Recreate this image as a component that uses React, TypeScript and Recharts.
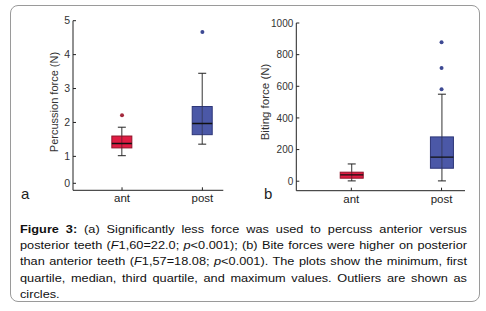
import { ComposedChart, Bar, Scatter, XAxis, YAxis } from "recharts";

const categories = ["ant", "post"];
const catPositions = [1, 2];

// (a) percussion force, N
const percMin = [1.02, 1.36];
const percQ1 = [1.25, 1.64];
const percMedian = [1.38, 1.97];
const percQ3 = [1.6, 2.47];
const percMax = [1.86, 3.45];
const percOutliers = [[2.21], [4.67]];
const percTicks = [0, 1, 2, 3, 4, 5];

// (b) biting force, N
const biteMin = [2, 2];
const biteQ1 = [19, 82];
const biteMedian = [40, 152];
const biteQ3 = [57, 280];
const biteMax = [109, 550];
const biteOutliers = [[], [581, 716, 878]];
const biteTicks = [0, 200, 400, 600, 800, 1000];

const FONT = "'Liberation Sans', Arial, sans-serif";
const boxFills = ["#e01c43", "#4b58a7"];
const boxEdges = ["#8f1529", "#2d3678"];
const dotFills = ["#a42a3d", "#3d4993"];

function buildRows(
  min: number[],
  q1: number[],
  med: number[],
  q3: number[],
  max: number[],
) {
  return categories.map((name, i) => ({
    x: catPositions[i],
    name,
    idx: i,
    range: [min[i], max[i]],
    min: min[i],
    q1: q1[i],
    med: med[i],
    q3: q3[i],
    max: max[i],
  }));
}

function buildOutliers(outliers: number[][]) {
  return outliers.flatMap((vals, i) =>
    vals.map((v) => ({ x: catPositions[i], v, idx: i })),
  );
}

const percRows = buildRows(percMin, percQ1, percMedian, percQ3, percMax);
const biteRows = buildRows(biteMin, biteQ1, biteMedian, biteQ3, biteMax);
const percDots = buildOutliers(percOutliers);
const biteDots = buildOutliers(biteOutliers);

function BoxShape(props: any) {
  const { x, y, width, height, payload } = props;
  const { min, max, q1, med, q3, idx } = payload;
  // bar spans [min, max]; place the quartiles on the same scale
  const py = (v: number) => y + ((max - v) / (max - min)) * height;
  const cx = x + width / 2;
  const cap = 4;
  return (
    <g>
      <line x1={cx} x2={cx} y1={py(max)} y2={py(min)} stroke="#333" />
      <line x1={cx - cap} x2={cx + cap} y1={py(max)} y2={py(max)} stroke="#222" />
      <line x1={cx - cap} x2={cx + cap} y1={py(min)} y2={py(min)} stroke="#222" />
      <rect
        x={x}
        y={py(q3)}
        width={width}
        height={py(q1) - py(q3)}
        fill={boxFills[idx]}
        stroke={boxEdges[idx]}
      />
      <line
        x1={cx}
        x2={cx}
        y1={py(q3)}
        y2={py(q1)}
        stroke="#222"
        strokeOpacity={0.5}
      />
      <line x1={x} x2={x + width} y1={py(med)} y2={py(med)} stroke="#111" strokeWidth={1.3} />
    </g>
  );
}

function OutlierDot(props: any) {
  const { cx, cy, payload } = props;
  return <circle cx={cx} cy={cy} r={2} fill={dotFills[payload.idx]} />;
}

function YTick(props: any) {
  const { x, y, payload, nudgeZero, fontSize } = props;
  const dy = nudgeZero && payload.value === 0 ? -7 : 0;
  return (
    <g>
      <line x1={x + 3} x2={x + 6} y1={y + dy} y2={y + dy} stroke="#222" />
      <text
        x={x}
        y={y + dy}
        dy="0.36em"
        textAnchor="end"
        fontSize={fontSize}
        fill="#333"
        fontFamily={FONT}
      >
        {payload.value}
      </text>
    </g>
  );
}

function BoxPanel({
  rows,
  dots,
  domain,
  ticks,
  margin,
  barSize,
  nudgeZero,
  tickFont,
}: {
  rows: any[];
  dots: any[];
  domain: [number, number];
  ticks: number[];
  margin: { top: number; right: number; bottom: number; left: number };
  barSize: number;
  nudgeZero: boolean;
  tickFont: number;
}) {
  return (
    <ComposedChart width={243} height={215} data={rows} margin={margin}>
      <XAxis
        type="number"
        dataKey="x"
        domain={[0.39, 2.26]}
        ticks={catPositions}
        allowDataOverflow
        tickFormatter={(v: number) => categories[v - 1]}
        height={20}
        tickSize={-3}
        tickMargin={7}
        stroke="#222"
        tick={{ fontSize: 11.5, fill: "#222", fontFamily: FONT }}
      />
      <YAxis
        type="number"
        domain={domain}
        ticks={ticks}
        allowDataOverflow
        width={40}
        stroke="#222"
        tickLine={false}
        tickSize={0}
        tickMargin={3}
        tick={<YTick nudgeZero={nudgeZero} fontSize={tickFont} />}
      />
      <Bar dataKey="range" barSize={barSize} shape={<BoxShape />} isAnimationActive={false} />
      <Scatter data={dots} dataKey="v" shape={<OutlierDot />} isAnimationActive={false} />
    </ComposedChart>
  );
}

const captionLines = [
  <>
    <b>Figure 3:</b> (a) Significantly less force was used to percuss anterior versus
  </>,
  <>
    posterior teeth (<i>F</i>1,60=22.0; <i>p</i>&lt;0.001); (b) Bite forces were higher on posterior
  </>,
  <>
    than anterior teeth (<i>F</i>1,57=18.08; <i>p</i>&lt;0.001). The plots show the minimum, first
  </>,
  <>quartile, median, third quartile, and maximum values. Outliers are shown as</>,
  <>circles.</>,
];

export default function App() {
  return (
    <div
      style={{
        position: "absolute",
        left: 0,
        top: 0,
        width: 486,
        height: 311,
        background: "#fff",
        fontFamily: FONT,
        overflow: "hidden",
      }}
    >
      <div
        style={{
          position: "absolute",
          left: 10,
          top: 5,
          width: 468,
          height: 295,
          border: "1px solid #9a9a9a",
          borderRadius: 8,
        }}
      />
      <div style={{ position: "absolute", left: 0, top: 0 }}>
        <BoxPanel
          rows={percRows}
          dots={percDots}
          domain={[0, 5]}
          ticks={percTicks}
          margin={{ top: 20.7, right: 19.7, bottom: 4.7, left: 33 }}
          barSize={20}
          nudgeZero
          tickFont={10.5}
        />
      </div>
      <div style={{ position: "absolute", left: 243, top: 0 }}>
        <BoxPanel
          rows={biteRows}
          dots={biteDots}
          domain={[-60, 1000]}
          ticks={biteTicks}
          margin={{ top: 23, right: 21, bottom: 4.3, left: 13.3 }}
          barSize={23}
          nudgeZero={false}
          tickFont={10}
        />
      </div>
      <div
        style={{
          position: "absolute",
          left: 53.5,
          top: 102,
          transform: "translate(-50%, -50%) rotate(-90deg)",
          whiteSpace: "nowrap",
          fontSize: 11,
          color: "#333",
        }}
      >
        Percussion force (N)
      </div>
      <div
        style={{
          position: "absolute",
          left: 264.5,
          top: 102,
          transform: "translate(-50%, -50%) rotate(-90deg)",
          whiteSpace: "nowrap",
          fontSize: 11.5,
          color: "#333",
        }}
      >
        Biting force (N)
      </div>
      <div style={{ position: "absolute", left: 21, top: 185, fontSize: 15, color: "#222" }}>a</div>
      <div style={{ position: "absolute", left: 264, top: 185, fontSize: 15, color: "#222" }}>b</div>
      <div
        style={{
          position: "absolute",
          left: 19.5,
          top: 221,
          width: 386,
          transform: "scaleX(1.158)",
          transformOrigin: "left top",
          fontSize: 11,
          lineHeight: "16.2px",
          color: "#111",
        }}
      >
        {captionLines.map((line, i) => (
          <div
            key={i}
            style={{
              textAlign: i < captionLines.length - 1 ? "justify" : "left",
              textAlignLast: i < captionLines.length - 1 ? "justify" : "left",
            }}
          >
            {line}
          </div>
        ))}
      </div>
    </div>
  );
}
